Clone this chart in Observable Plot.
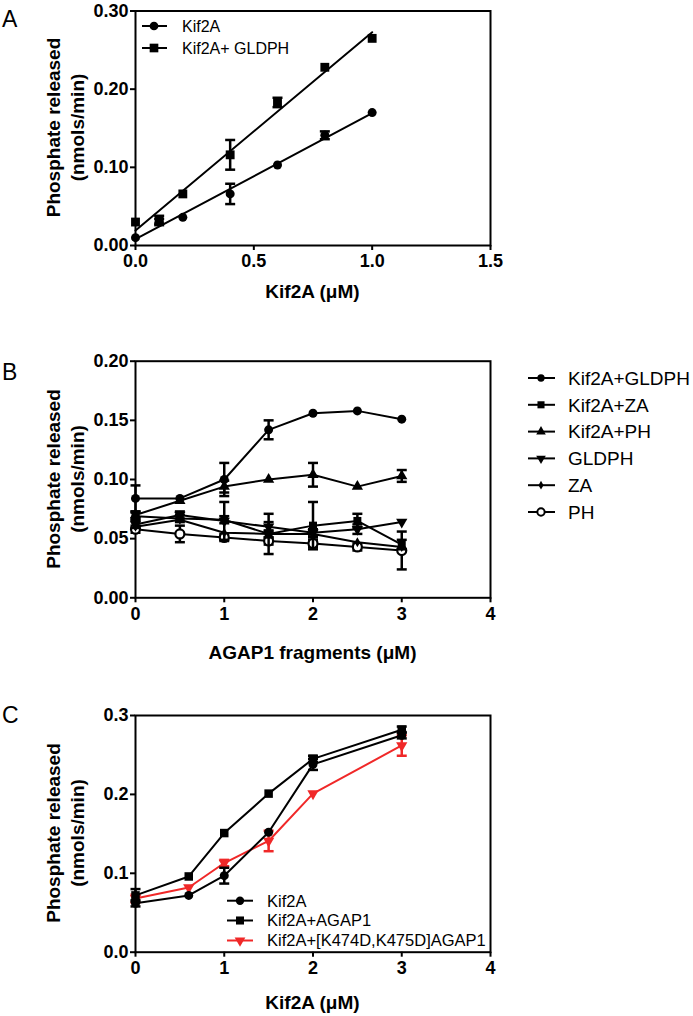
<!DOCTYPE html>
<html>
<head>
<meta charset="utf-8">
<script src="https://cdn.jsdelivr.net/npm/d3@7"></script>
<script src="https://cdn.jsdelivr.net/npm/@observablehq/plot@0.6"></script>
<style>
  html, body { margin: 0; padding: 0; background: #fff; }
  #root { position: relative; width: 693px; height: 1016px; overflow: hidden; background: #fff; }
  .panel { position: absolute; left: 0; }
  #overlay { position: absolute; left: 0; top: 0; pointer-events: none; }
</style>
</head>
<body>
<div id="root"></div>
<script>
// ---------------- DATA ----------------
// Panel A
const xA = [0, 0.1, 0.2, 0.4, 0.6, 0.8, 1.0];
const aKif2A = [0.010, 0.030, 0.036, 0.066, 0.103, 0.141, 0.170];
const aKif2AErr = [0.002, 0.004, 0.002, 0.013, 0.002, 0.005, 0.002];
const aKif2AGLDPH = [0.030, 0.033, 0.066, 0.116, 0.183, 0.228, 0.265];
const aKif2AGLDPHErr = [0.003, 0.005, 0.003, 0.019, 0.006, 0.003, 0.003];
const aSeries = ["Kif2A", "Kif2A+ GLDPH"];
const aXTicks = [0, 0.5, 1.0, 1.5];
const aYTicks = [0, 0.10, 0.20, 0.30];

// Panel B
const xB = [0, 0.5, 1, 1.5, 2, 2.5, 3];
const bKif2AGLDPH = [0.084, 0.084, 0.100, 0.142, 0.156, 0.158, 0.151];
const bKif2AGLDPHErr = [0.011, 0.002, 0.014, 0.008, 0.002, 0.002, 0.002];
const bKif2AZA = [0.069, 0.067, 0.066, 0.054, 0.061, 0.065, 0.045];
const bKif2AZAErr = [0.003, 0.003, 0.003, 0.003, 0.020, 0.006, 0.004];
const bKif2APH = [0.070, 0.082, 0.094, 0.100, 0.104, 0.094, 0.103];
const bKif2APHErr = [0.003, 0.002, 0.005, 0.002, 0.010, 0.002, 0.005];
const bGLDPH = [0.062, 0.070, 0.065, 0.060, 0.055, 0.058, 0.064];
const bGLDPHErr = [0.003, 0.003, 0.016, 0.004, 0.003, 0.004, 0.002];
const bZA = [0.060, 0.066, 0.055, 0.054, 0.054, 0.047, 0.043];
const bZAErr = [0.002, 0.002, 0.002, 0.017, 0.003, 0.002, 0.002];
const bPH = [0.058, 0.054, 0.051, 0.048, 0.046, 0.043, 0.040];
const bPHErr = [0.003, 0.007, 0.003, 0.003, 0.003, 0.003, 0.016];
const bSeries = ["Kif2A+GLDPH", "Kif2A+ZA", "Kif2A+PH", "GLDPH", "ZA", "PH"];
const bXTicks = [0, 1, 2, 3, 4];
const bYTicks = [0, 0.05, 0.10, 0.15, 0.20];

// Panel C
const xC = [0, 0.6, 1, 1.5, 2, 3];
const cKif2A = [0.062, 0.072, 0.097, 0.152, 0.238, 0.275];
const cKif2AErr = [0.004, 0.002, 0.010, 0.003, 0.007, 0.004];
const cKif2AAGAP1 = [0.072, 0.096, 0.151, 0.201, 0.245, 0.282];
const cKif2AAGAP1Err = [0.008, 0.003, 0.003, 0.003, 0.004, 0.004];
const cMutant = [0.068, 0.082, 0.113, 0.141, 0.201, 0.262];
const cMutantErr = [0.005, 0.002, 0.004, 0.013, 0.002, 0.013];
const cSeries = ["Kif2A", "Kif2A+AGAP1", "Kif2A+[K474D,K475D]AGAP1"];
const cXTicks = [0, 1, 2, 3, 4];
const cYTicks = [0, 0.1, 0.2, 0.3];

// ---------------- STYLE ----------------
const FONT = "'Liberation Sans', Arial, Helvetica, sans-serif";
const RED = "#f02828";

const invTriangle = {
  draw(ctx, size) {
    const y = -Math.sqrt(size / (Math.sqrt(3) * 3));
    ctx.moveTo(0, -2 * y);
    ctx.lineTo(-Math.sqrt(3) * y, y);
    ctx.lineTo(Math.sqrt(3) * y, y);
    ctx.closePath();
  }
};
const capSym = {
  draw(ctx, size) {
    const w = Math.sqrt(size / Math.PI);
    ctx.moveTo(-w, 0);
    ctx.lineTo(w, 0);
  }
};

function rows(xs, ys, es) {
  return xs.map((x, i) => ({x, y: ys[i], e: es[i]}));
}

// k = pixels per data unit on y; error bars hidden behind the marker are not drawn
function seriesMarks(data, {k, symbol = "circle", r = 4.5, color = "black", fill, strokeMarker = null, line = true, capR = 5}) {
  const m = [];
  const eb = data.filter(d => d.e * k > 3.1);
  if (line) m.push(Plot.line(data, {x: "x", y: "y", stroke: color, strokeWidth: 2}));
  m.push(Plot.ruleX(eb, {x: "x", y1: d => d.y - d.e, y2: d => d.y + d.e, stroke: color, strokeWidth: 2.5}));
  m.push(Plot.dot(eb, {x: "x", y: d => d.y + d.e, symbol: capSym, r: capR, stroke: color, strokeWidth: 2.5, fill: "none"}));
  m.push(Plot.dot(eb, {x: "x", y: d => d.y - d.e, symbol: capSym, r: capR, stroke: color, strokeWidth: 2.5, fill: "none"}));
  m.push(Plot.dot(data, {x: "x", y: "y", symbol, r, fill: fill ?? color, stroke: strokeMarker, strokeWidth: strokeMarker ? 2.2 : 0}));
  return m;
}

function makePanel(cfg) {
  return Plot.plot({
    width: 693, height: cfg.height,
    marginLeft: 135, marginRight: 203, marginTop: cfg.mt, marginBottom: cfg.mb,
    x: {domain: cfg.xDomain},
    y: {domain: cfg.yDomain},
    style: {fontFamily: FONT, fontSize: "18px", fontWeight: "bold", color: "black", background: "transparent", overflow: "visible"},
    marks: [
      Plot.axisX({ticks: cfg.xTicks, tickFormat: cfg.xFmt, tickSize: 5, tickPadding: 4, strokeWidth: 2, label: null, fontSize: 18, fontWeight: "bold"}),
      Plot.axisY({ticks: cfg.yTicks, tickFormat: cfg.yFmt, tickSize: 5, tickPadding: 2, strokeWidth: 2, label: null, fontSize: 18, fontWeight: "bold"}),
      Plot.frame({stroke: "black", strokeWidth: 2}),
      ...cfg.marks
    ]
  });
}

const root = document.getElementById("root");
function place(svg, top) {
  const d = document.createElement("div");
  d.className = "panel";
  d.style.top = top + "px";
  d.appendChild(svg);
  root.appendChild(d);
}

// Panel A  (plot height 234.5 px for 0.30)
const kA = 234.5 / 0.30;
const dA1 = rows(xA, aKif2A, aKif2AErr);
const dA2 = rows(xA, aKif2AGLDPH, aKif2AGLDPHErr);
place(makePanel({
  height: 310, mt: 10.5, mb: 65,
  xDomain: [0, 1.5], yDomain: [0, 0.30],
  xTicks: aXTicks, yTicks: aYTicks,
  xFmt: d3.format(".1f"), yFmt: d3.format(".2f"),
  marks: [
    Plot.linearRegressionY(dA1, {x: "x", y: "y", ci: 0, stroke: "black", strokeWidth: 2}),
    Plot.linearRegressionY(dA2, {x: "x", y: "y", ci: 0, stroke: "black", strokeWidth: 2}),
    ...seriesMarks(dA1, {k: kA, symbol: "circle", r: 4.5, line: false}),
    ...seriesMarks(dA2, {k: kA, symbol: "square", r: 5, line: false})
  ]
}), 0);

// Panel B
const kB = 236.6 / 0.20;
place(makePanel({
  height: 340, mt: 40.7, mb: 62.7,
  xDomain: [0, 4], yDomain: [0, 0.20],
  xTicks: bXTicks, yTicks: bYTicks,
  xFmt: d3.format("d"), yFmt: d3.format(".2f"),
  marks: [
    ...seriesMarks(rows(xB, bPH, bPHErr), {k: kB, symbol: "circle", r: 4.5, fill: "white", strokeMarker: "black"}),
    ...seriesMarks(rows(xB, bZA, bZAErr), {k: kB, symbol: "diamond", r: 3}),
    ...seriesMarks(rows(xB, bGLDPH, bGLDPHErr), {k: kB, symbol: invTriangle, r: 4.2}),
    ...seriesMarks(rows(xB, bKif2AZA, bKif2AZAErr), {k: kB, symbol: "square", r: 4.5}),
    ...seriesMarks(rows(xB, bKif2APH, bKif2APHErr), {k: kB, symbol: "triangle", r: 4.2}),
    ...seriesMarks(rows(xB, bKif2AGLDPH, bKif2AGLDPHErr), {k: kB, symbol: "circle", r: 4.5})
  ]
}), 320);

// Panel C
const kC = 236.7 / 0.3;
place(makePanel({
  height: 356, mt: 55, mb: 64.3,
  xDomain: [0, 4], yDomain: [0, 0.3],
  xTicks: cXTicks, yTicks: cYTicks,
  xFmt: d3.format("d"), yFmt: d3.format(".1f"),
  marks: [
    ...seriesMarks(rows(xC, cMutant, cMutantErr), {k: kC, symbol: invTriangle, r: 4.2, color: RED}),
    ...seriesMarks(rows(xC, cKif2A, cKif2AErr), {k: kC, symbol: "circle", r: 4.5}),
    ...seriesMarks(rows(xC, cKif2AAGAP1, cKif2AAGAP1Err), {k: kC, symbol: "square", r: 4.8})
  ]
}), 660);

// ---------------- OVERLAY: labels, titles, legends ----------------
const ov = d3.select(root).append("svg").attr("id", "overlay")
  .attr("width", 693).attr("height", 1016)
  .style("font-family", FONT);

// Panel letters
[["A", 27], ["B", 380], ["C", 723]].forEach(([t, y]) => {
  ov.append("text").attr("x", 2).attr("y", y).attr("font-size", 23).attr("fill", "black").text(t);
});

// X titles
[["Kif2A (\u03bcM)", 298], ["AGAP1 fragments (\u03bcM)", 659], ["Kif2A (\u03bcM)", 1009]].forEach(([t, y]) => {
  ov.append("text").attr("x", 312.5).attr("y", y).attr("text-anchor", "middle")
    .attr("font-size", 19).attr("font-weight", "bold").text(t);
});

// Y titles
[127.5, 479, 833].forEach(cy => {
  const g = ov.append("g").attr("font-size", 19).attr("font-weight", "bold").attr("text-anchor", "middle");
  g.append("text").attr("transform", `translate(60,${cy}) rotate(-90)`).text("Phosphate released");
  g.append("text").attr("transform", `translate(84,${cy}) rotate(-90)`).text("(nmols/min)");
});

function symPath(type, size) {
  return d3.symbol().type(type).size(size)();
}
function legend({x1, x2, mx, tx, ys, fs, items}) {
  items.forEach((it, i) => {
    const y = ys[i];
    const color = it.color || "black";
    ov.append("line").attr("x1", x1).attr("x2", x2).attr("y1", y).attr("y2", y)
      .attr("stroke", color).attr("stroke-width", 2);
    ov.append("path").attr("d", symPath(it.type, it.size))
      .attr("transform", `translate(${mx},${y})`)
      .attr("fill", it.fill || color)
      .attr("stroke", it.stroke || "none").attr("stroke-width", it.stroke ? 2 : 0);
    ov.append("text").attr("x", tx).attr("y", y + fs * 0.36).attr("font-size", fs).attr("fill", "black").text(it.label);
  });
}

legend({
  x1: 142, x2: 167, mx: 154, tx: 182, ys: [26, 48], fs: 16,
  items: [
    {label: aSeries[0], type: d3.symbolCircle, size: 60},
    {label: aSeries[1], type: d3.symbolSquare, size: 75}
  ]
});

legend({
  x1: 528, x2: 555, mx: 541, tx: 568, ys: [378, 404.8, 431.6, 458.4, 485.2, 512], fs: 19,
  items: [
    {label: bSeries[0], type: d3.symbolCircle, size: 42},
    {label: bSeries[1], type: d3.symbolSquare, size: 50},
    {label: bSeries[2], type: d3.symbolTriangle, size: 40},
    {label: bSeries[3], type: invTriangle, size: 40},
    {label: bSeries[4], type: d3.symbolDiamond, size: 22},
    {label: bSeries[5], type: d3.symbolCircle, size: 42, fill: "white", stroke: "black"}
  ]
});

legend({
  x1: 227, x2: 253, mx: 240, tx: 267, ys: [900.7, 920.5, 940.5], fs: 16.5,
  items: [
    {label: cSeries[0], type: d3.symbolCircle, size: 55},
    {label: cSeries[1], type: d3.symbolSquare, size: 65},
    {label: cSeries[2], type: invTriangle, size: 50, color: RED}
  ]
});
</script>
</body>
</html>
